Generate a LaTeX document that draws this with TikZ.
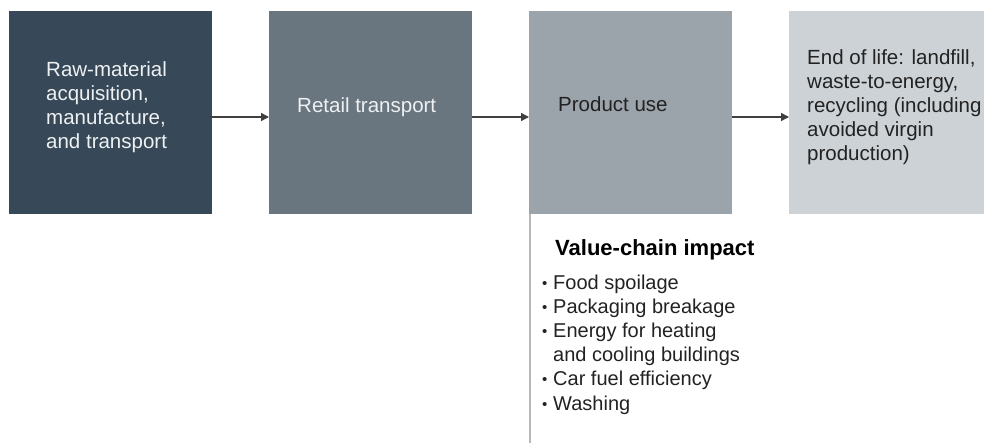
\documentclass[tikz,border=0pt]{standalone}
\usepackage{fontspec}
\setmainfont{Liberation Sans}
\usetikzlibrary{arrows.meta}
\definecolor{cA}{HTML}{374958}
\definecolor{cB}{HTML}{69767F}
\definecolor{cC}{HTML}{9BA3AB}
\definecolor{cD}{HTML}{CDD2D6}
\definecolor{txtdark}{HTML}{222222}
\definecolor{txtlight}{HTML}{EEF0F2}
\newcommand{\bul}{\makebox[11pt][l]{\raisebox{1pt}{\scalebox{0.75}{•}}}}
\tikzset{
  stage/.style={minimum width=203pt, minimum height=203pt, inner sep=0pt, anchor=north west},
  lbl/.style={inner sep=0pt, anchor=base west, align=left, font=\fontsize{20.5}{24}\selectfont},
  flow/.style={draw=black!75, line width=1.3pt, -{Triangle[length=8pt,width=8pt]}, shorten >=0pt}
}
\begin{document}
\begin{tikzpicture}[x=1pt,y=-1pt]
\useasboundingbox (0,0) rectangle (984,444);
\node[stage, fill=cA] (s1) at (9,11) {};
\node[stage, fill=cB] (s2) at (269,11) {};
\node[stage, fill=cC] (s3) at (529,11) {};
\node[stage, fill=cD] (s4) at (789,11) {};
% base anchor of multi-line nodes is the last line's baseline
\node[lbl, text=txtlight] (t1) at (46,148) {Raw-material\\acquisition,\\manufacture,\\and transport};
\node[lbl, text=txtlight] (t2) at (297,112) {Retail transport};
\node[lbl, text=txtdark] (t3) at (558,111) {Product use};
\node[lbl, text=txtdark] (t4) at (807,160) {End of life: landfill,\\waste-to-energy,\\recycling (including\\avoided virgin\\production)};
\coordinate (a1) at (209,117);
\coordinate (a2) at (472,117);
\coordinate (a3) at (732,117);
\draw[flow] (a1) -- (a1 -| s2.west);
\draw[flow] (a2) -- (a2 -| s3.west);
\draw[flow] (a3) -- (a3 -| s4.west);
\coordinate (vend) at (530,443);
\draw[draw=black!28, line width=1.2pt] (s3.south west) ++(1,0) coordinate (vtop) -- (vtop |- vend);
\node[lbl, text=black, font=\fontsize{22}{24}\bfseries] (h) at (555,255) {Value-chain impact};
\node[lbl, text=txtdark, font=\fontsize{20}{24.2}\selectfont] (list) at (542,410)
 {\bul Food spoilage\\\bul Packaging breakage\\\bul Energy for heating\\\hspace*{11pt}and cooling buildings\\\bul Car fuel efficiency\\\bul Washing};
\end{tikzpicture}
\end{document}
